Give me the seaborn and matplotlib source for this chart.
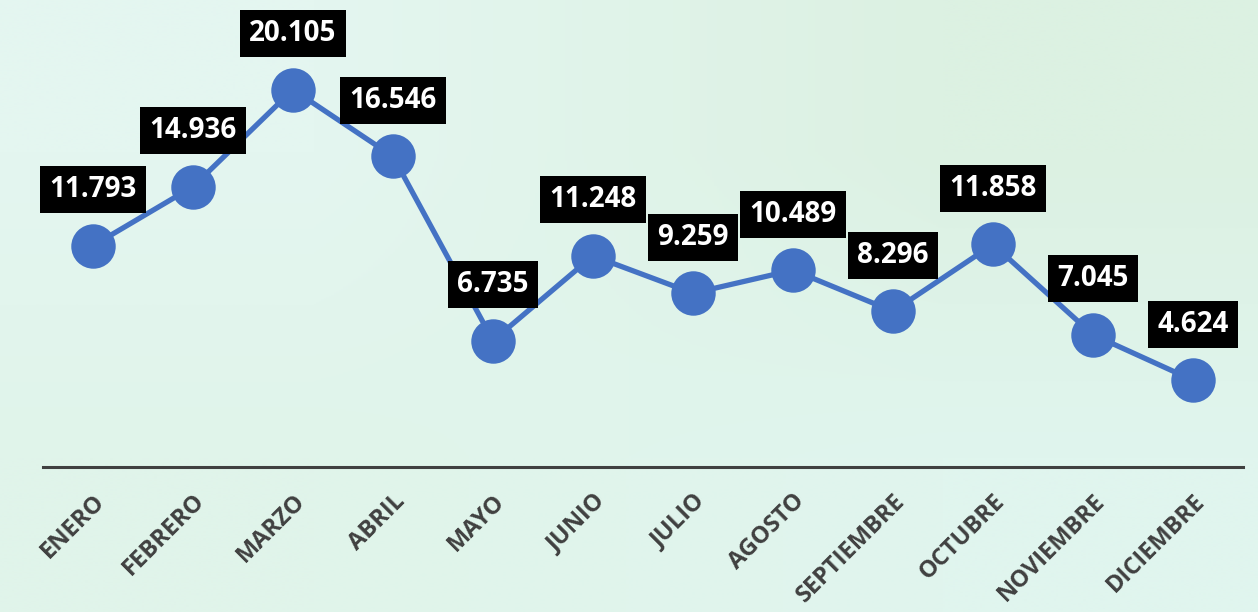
import numpy as np
import pandas as pd
import seaborn as sns
import matplotlib.pyplot as plt
from matplotlib.colors import to_rgb

meses = ["ENERO", "FEBRERO", "MARZO", "ABRIL", "MAYO", "JUNIO", "JULIO",
         "AGOSTO", "SEPTIEMBRE", "OCTUBRE", "NOVIEMBRE", "DICIEMBRE"]
valores = [11.793, 14.936, 20.105, 16.546, 6.735, 11.248, 9.259,
           10.489, 8.296, 11.858, 7.045, 4.624]
etiquetas = ["11.793", "14.936", "20.105", "16.546", "6.735", "11.248", "9.259",
             "10.489", "8.296", "11.858", "7.045", "4.624"]

df = pd.DataFrame({"mes": meses, "valor": valores})

sns.set_style("white")
plt.rcParams['font.family'] = ['Open Sans', 'DejaVu Sans']

fig = plt.figure(figsize=(12.58, 6.12), dpi=100)

# background gradient
bg = fig.add_axes([0, 0, 1, 1], zorder=-10)
corners = np.array([[to_rgb("#e4f6f0"), to_rgb("#dcf1e2")],
                    [to_rgb("#e0f4ea"), to_rgb("#e0f5ee")]])
bg.imshow(corners, aspect="auto", interpolation="bilinear", extent=[0, 1, 0, 1])
bg.axis("off")

ax = fig.add_axes([43 / 1258, 145 / 612, 1200 / 1258, 467 / 612])
ax.patch.set_alpha(0)

sns.lineplot(data=df, x="mes", y="valor", ax=ax, color="#4472C4", linewidth=3.8,
             marker="o", markersize=32, markeredgewidth=0, sort=False)

for i, (v, t) in enumerate(zip(valores, etiquetas)):
    ax.annotate(t, (i, v), xytext=(0, 56), textcoords="offset pixels",
                ha="center", va="center", color="white", fontsize=20,
                fontweight="bold", zorder=5,
                bbox=dict(boxstyle="square,pad=0.32", fc="black", ec="none"))

ax.set_xlim(-0.5, 11.5)
ax.set_ylim(0, 467 / 18.77)
ax.set_xlabel("")
ax.set_ylabel("")
ax.set_yticks([])
for s in ["top", "right", "left"]:
    ax.spines[s].set_visible(False)
ax.spines["bottom"].set_color("#404040")
ax.spines["bottom"].set_linewidth(2.2)
ax.tick_params(axis="x", length=0, pad=16)
plt.setp(ax.get_xticklabels(), rotation=45, ha="right", rotation_mode="anchor",
         fontsize=17, fontweight="bold", color="#404040")

fig.savefig("out.png", dpi=100)
